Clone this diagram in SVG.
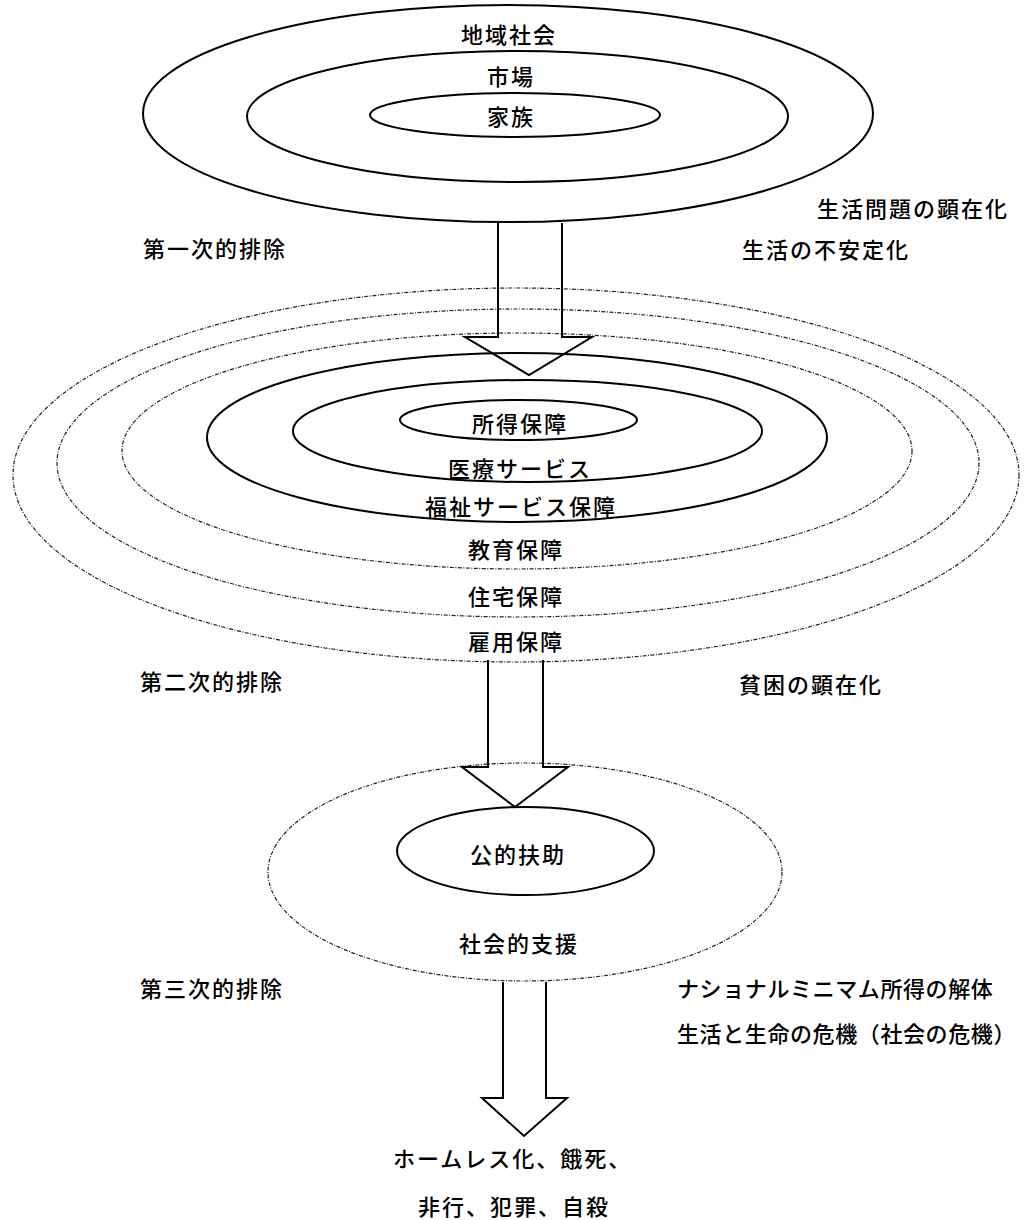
<svg xmlns="http://www.w3.org/2000/svg" width="1024" height="1220" viewBox="0 0 1024 1220">
<style>
.s{fill:none;stroke:#000;stroke-width:2}
.d{fill:none;stroke:#222;stroke-width:1.2;stroke-dasharray:4 1.5 1 1.5}
.a{fill:none;stroke:#000;stroke-width:2;stroke-linejoin:miter}
text{font-family:"Noto Sans CJK JP","Noto Sans CJK SC",sans-serif;font-size:22px;font-weight:500;fill:#000;dominant-baseline:central;letter-spacing:2px}
.c{text-anchor:middle}
.t{letter-spacing:0.6px}
</style>
<rect width="1024" height="1220" fill="#fff"/>
<g id="community"><ellipse class="s" cx="508" cy="113.5" rx="365" ry="108.5"/><text class="c" x="509" y="33">地域社会</text></g>
<g id="market"><ellipse class="s" cx="517.5" cy="116.5" rx="270.5" ry="65.5"/><text class="c" x="511" y="75">市場</text></g>
<g id="family"><ellipse class="s" cx="515" cy="115" rx="145" ry="22"/><text class="c" x="511" y="115">家族</text></g>

<g id="employment"><ellipse class="d" cx="516" cy="475" rx="503" ry="187"/><text class="c" x="516" y="640">雇用保障</text></g>
<g id="housing"><ellipse class="d" cx="518" cy="463" rx="461" ry="154"/><text class="c" x="516" y="595">住宅保障</text></g>
<g id="education"><ellipse class="d" cx="517" cy="451" rx="395" ry="118"/><text class="c" x="516" y="548">教育保障</text></g>
<g id="welfare"><ellipse class="s" cx="517" cy="437.5" rx="310" ry="84.5"/><text class="c" x="521" y="505">福祉サービス保障</text></g>
<g id="medical"><ellipse class="s" cx="527.5" cy="431" rx="234.5" ry="51"/><text class="c" x="520" y="467">医療サービス</text></g>
<g id="income"><ellipse class="s" cx="518.5" cy="420" rx="118.5" ry="20"/><text class="c" x="520" y="422">所得保障</text></g>

<g id="social-support"><ellipse class="d" cx="525" cy="872" rx="257" ry="109"/><text class="c" x="519" y="942">社会的支援</text></g>
<g id="public-assistance"><ellipse class="s" cx="525.5" cy="851" rx="128.5" ry="44"/><text class="c" x="518" y="853">公的扶助</text></g>

<g id="connectors">
<polyline class="a" points="498,223 498,337 465,337 529,375 592,337 562,337 562,223"/>
<polyline class="a" points="488,660 488,767 462,767 515,807 568,767 543,767 543,660"/>
<polyline class="a" points="503,982 503,1098 482,1098 524,1136 567,1098 546,1098 546,982"/>
</g>

<g id="labels">
<text x="143" y="247">第一次的排除</text>
<text x="817" y="207">生活問題の顕在化</text>
<text x="742" y="248">生活の不安定化</text>
<text x="140" y="680">第二次的排除</text>
<text x="739" y="683">貧困の顕在化</text>
<text x="140" y="987">第三次的排除</text>
<text class="t" x="677" y="987">ナショナルミニマム所得の解体</text>
<text class="t" x="677" y="1032">生活と生命の危機（社会の危機）</text>
</g>
<g id="outcome">
<text x="393" y="1157">ホームレス化、餓死、</text>
<text x="418" y="1205">非行、犯罪、自殺</text>
</g>
</svg>
